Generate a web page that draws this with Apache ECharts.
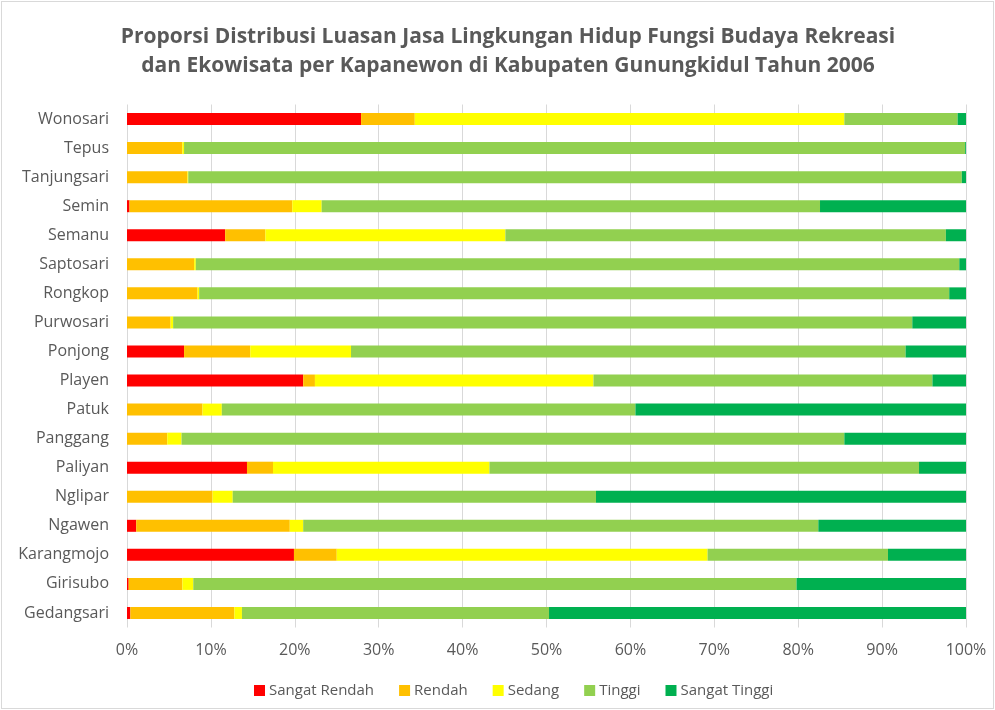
<!DOCTYPE html>
<html>
<head>
<meta charset="utf-8">
<script src="https://cdn.jsdelivr.net/npm/echarts@6/dist/echarts.min.js"></script>
<style>
  html, body { margin: 0; padding: 0; background: #fff; }
  #frame { position: absolute; left: 1px; top: 1px; width: 991px; height: 706px; border: 1px solid #d9d9d9; }
  #chart { position: absolute; left: 0; top: 0; width: 995px; height: 710px; }
</style>
</head>
<body>
<div id="frame"></div>
<div id="chart"></div>
<script>
// Kapanewon, listed bottom-to-top as drawn on the category axis
const categories = ['Gedangsari', 'Girisubo', 'Karangmojo', 'Ngawen', 'Nglipar', 'Paliyan',
  'Panggang', 'Patuk', 'Playen', 'Ponjong', 'Purwosari', 'Rongkop', 'Saptosari',
  'Semanu', 'Semin', 'Tanjungsari', 'Tepus', 'Wonosari'];

// Share of area (%) per service class, same order as categories
const sangatRendah = [0.4, 0.2, 19.9, 1.1, 0, 14.3, 0, 0, 21.0, 6.8, 0, 0, 0, 11.7, 0.3, 0, 0, 27.9];
const rendah       = [12.4, 6.4, 5.1, 18.3, 10.2, 3.1, 4.8, 9.0, 1.4, 7.9, 5.2, 8.4, 8.0, 4.8, 19.4, 7.2, 6.6, 6.4];
const sedang       = [0.9, 1.3, 44.2, 1.6, 2.4, 25.8, 1.7, 2.3, 33.2, 12.0, 0.3, 0.2, 0.2, 28.6, 3.5, 0.1, 0.2, 51.2];
const tinggi       = [36.6, 71.9, 21.5, 61.4, 43.3, 51.2, 79.0, 49.3, 40.4, 66.1, 88.1, 89.4, 91.0, 52.5, 59.4, 92.2, 93.1, 13.5];
const sangatTinggi = [49.7, 20.2, 9.3, 17.6, 44.1, 5.6, 14.5, 39.4, 4.0, 7.2, 6.4, 2.0, 0.8, 2.4, 17.4, 0.5, 0.1, 1.0];

const seriesNames = ['Sangat Rendah', 'Rendah', 'Sedang', 'Tinggi', 'Sangat Tinggi'];
const seriesData = [sangatRendah, rendah, sedang, tinggi, sangatTinggi];
const seriesColors = ['#FF0000', '#FFC000', '#FFFF00', '#92D050', '#00B050'];

const font = '"Open Sans", Lato, sans-serif';
const textGray = '#595959';

const chart = echarts.init(document.getElementById('chart'), null, { renderer: 'canvas' });

chart.setOption({
  animation: false,
  title: {
    text: 'Proporsi Distribusi Luasan Jasa Lingkungan Hidup Fungsi Budaya Rekreasi\ndan Ekowisata per Kapanewon di Kabupaten Gunungkidul Tahun 2006',
    left: 503,
    textAlign: 'center',
    top: 18,
    textStyle: {
      fontFamily: font,
      fontSize: 21,
      fontWeight: 'bold',
      color: textGray,
      lineHeight: 29
    }
  },
  legend: {
    bottom: 7,
    left: 249,
    itemWidth: 11,
    itemHeight: 11,
    itemGap: 25,
    icon: 'rect',
    textStyle: { fontFamily: font, fontSize: 15, color: textGray, padding: [0, 0, 0, -1] },
    data: seriesNames
  },
  grid: { left: 127, right: 29, top: 104.5, bottom: 82.5, containLabel: false },
  xAxis: {
    type: 'value',
    min: 0,
    max: 100,
    interval: 10,
    axisLabel: {
      formatter: '{value}%',
      fontFamily: font,
      fontSize: 16,
      color: textGray,
      margin: 15
    },
    axisLine: { show: false },
    axisTick: { show: false },
    splitLine: { show: true, lineStyle: { color: '#d9d9d9', width: 1 } }
  },
  yAxis: {
    type: 'category',
    data: categories,
    axisLabel: {
      fontFamily: font,
      fontSize: 16,
      color: textGray,
      margin: 18
    },
    axisLine: { show: false },
    axisTick: { show: false },
    splitLine: { show: false }
  },
  series: seriesNames.map((name, i) => ({
    name: name,
    type: 'bar',
    stack: 'total',
    barWidth: 12,
    itemStyle: { color: seriesColors[i] },
    data: seriesData[i]
  }))
});
</script>
</body>
</html>
